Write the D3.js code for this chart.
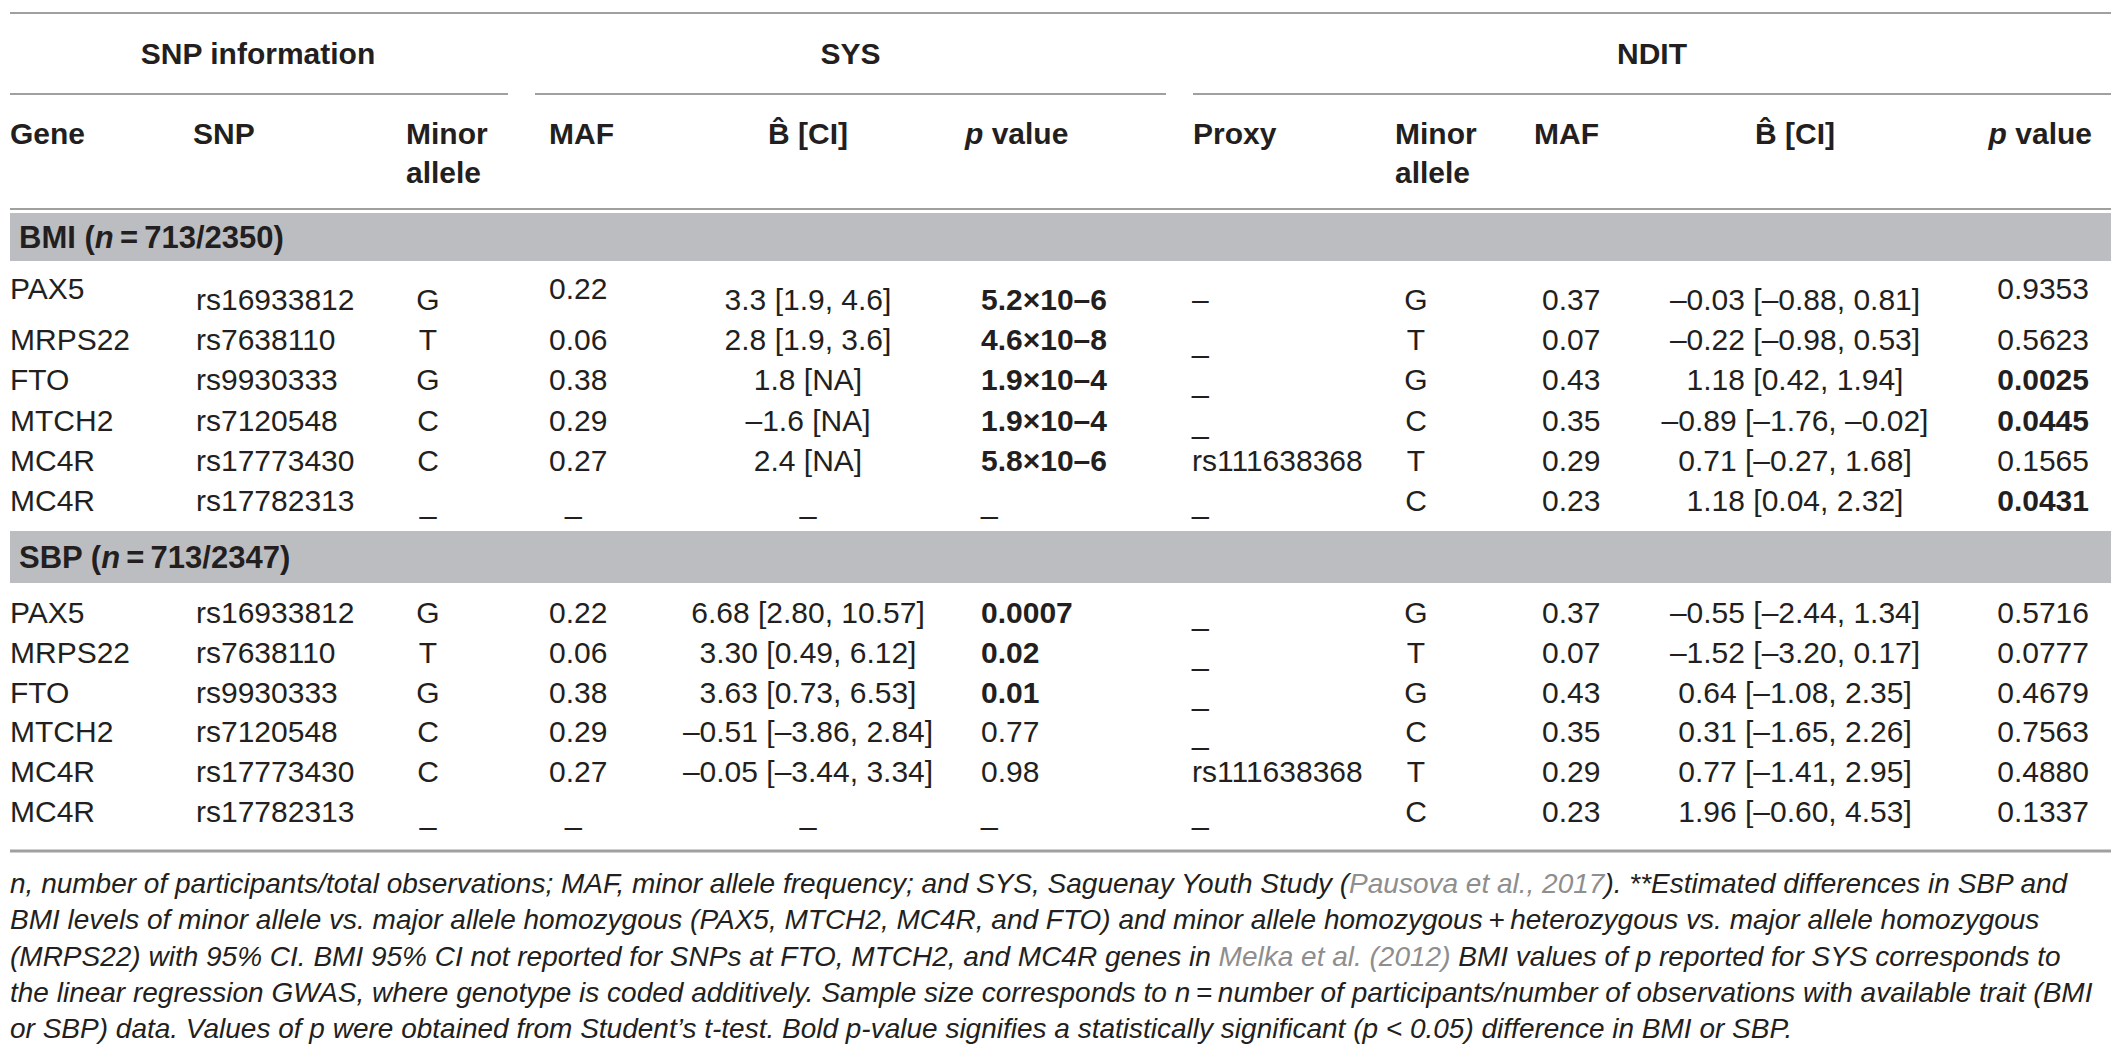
<!DOCTYPE html>
<meta charset="utf-8">
<style>
body { margin: 0; background: #fff; }
text { font-family: "Liberation Sans", Arial, Helvetica, sans-serif; }
</style>
<body>
<script src="https://d3js.org/d3.v7.min.js"></script>
<script>

// table data, one row per SNP
var genes = ["PAX5", "MRPS22", "FTO", "MTCH2", "MC4R", "MC4R"];
var snps = ["rs16933812", "rs7638110", "rs9930333", "rs7120548", "rs17773430", "rs17782313"];
var minorSys = ["G", "T", "G", "C", "C", "_"];
var mafSys = ["0.22", "0.06", "0.38", "0.29", "0.27", "_"];
var minorNdit = ["G", "T", "G", "C", "T", "C"];
var mafNdit = ["0.37", "0.07", "0.43", "0.35", "0.29", "0.23"];
var bmiProxy = ["–", "_", "_", "_", "rs111638368", "_"];
var sbpProxy = ["_", "_", "_", "_", "rs111638368", "_"];

var bmiBetaSys = ["3.3 [1.9, 4.6]", "2.8 [1.9, 3.6]", "1.8 [NA]", "–1.6 [NA]", "2.4 [NA]", "_"];
var bmiPSys = ["5.2×10–6", "4.6×10–8", "1.9×10–4", "1.9×10–4", "5.8×10–6", "_"];
var bmiBetaNdit = ["–0.03 [–0.88, 0.81]", "–0.22 [–0.98, 0.53]", "1.18 [0.42, 1.94]",
                   "–0.89 [–1.76, –0.02]", "0.71 [–0.27, 1.68]", "1.18 [0.04, 2.32]"];
var bmiPNdit = ["0.9353", "0.5623", "0.0025", "0.0445", "0.1565", "0.0431"];

var sbpBetaSys = ["6.68 [2.80, 10.57]", "3.30 [0.49, 6.12]", "3.63 [0.73, 6.53]",
                  "–0.51 [–3.86, 2.84]", "–0.05 [–3.44, 3.34]", "_"];
var sbpPSys = ["0.0007", "0.02", "0.01", "0.77", "0.98", "_"];
var sbpBetaNdit = ["–0.55 [–2.44, 1.34]", "–1.52 [–3.20, 0.17]", "0.64 [–1.08, 2.35]",
                   "0.31 [–1.65, 2.26]", "0.77 [–1.41, 2.95]", "1.96 [–0.60, 4.53]"];
var sbpPNdit = ["0.5716", "0.0777", "0.4679", "0.7563", "0.4880", "0.1337"];

var groupLabels = ["SNP information", "SYS", "NDIT"];
var sections = [
  {name: "BMI", n: "713/2350", proxy: bmiProxy, betaSys: bmiBetaSys, pSys: bmiPSys, betaNdit: bmiBetaNdit, pNdit: bmiPNdit},
  {name: "SBP", n: "713/2347", proxy: sbpProxy, betaSys: sbpBetaSys, pSys: sbpPSys, betaNdit: sbpBetaNdit, pNdit: sbpPNdit}
];

var notes = [
  [["n", 0], [", number of participants/total observations; MAF, minor allele frequency; and SYS, Saguenay Youth Study (", 0], ["Pausova et al., 2017", 1], ["). **Estimated differences in SBP and", 0]],
  [["BMI levels of minor allele vs. major allele homozygous (PAX5, MTCH2, MC4R, and FTO) and minor allele homozygous\u2009+\u2009heterozygous vs. major allele homozygous", 0]],
  [["(MRPS22) with 95% CI. BMI 95% CI not reported for SNPs at FTO, MTCH2, and MC4R genes in ", 0], ["Melka et al. (2012)", 1], [" BMI values of p reported for SYS corresponds to", 0]],
  [["the linear regression GWAS, where genotype is coded additively. Sample size corresponds to n\u2009=\u2009number of participants/number of observations with available trait (BMI", 0]],
  [["or SBP) data. Values of p were obtained from Student’s t-test. Bold p-value signifies a statistically significant (p < 0.05) difference in BMI or SBP.", 0]]
];

// p value -> significant?
function sig(s) {
  if (s === "_" || s === "–") return false;
  var m = s.split("×10");
  var v = m.length > 1 ? +m[0] * Math.pow(10, +m[1].replace("–", "-")) : +s;
  return v < 0.05;
}

var W = 2126, H = 1060;
var ink = "#231f20", rule = "#a0a0a0", band = "#bcbdc0", linkCol = "#8e8e8e";
var fs = 30;

var svg = d3.select("body").append("svg")
    .attr("width", W).attr("height", H);

var x0 = 10, x1 = 2111;

// column anchor positions
var cols = ["gene", "snp", "minorS", "mafS", "betaS", "pS", "proxy", "minorN", "mafN", "betaN", "pN"];
var colX = d3.scaleOrdinal().domain(cols)
    .range([10, 196, 428, 549, 808, 981, 1192, 1416, 1542, 1795, 2089]);
var colAnchor = d3.scaleOrdinal().domain(cols)
    .range(["start", "start", "middle", "start", "middle", "start", "start", "middle", "start", "middle", "end"]);

// rules
function hline(y, a, b, w) {
  svg.append("line").attr("x1", a).attr("x2", b).attr("y1", y).attr("y2", y)
      .attr("stroke", rule).attr("stroke-width", w || 2);
}
hline(13, x0, x1);
hline(209, x0, x1);
hline(851, x0, x1, 3);

// group headers
var groups = [[x0, 508], [535, 1166], [1193, x1]];
groups.forEach(function(g, i) {
  hline(94, g[0], g[1]);
  svg.append("text")
      .attr("x", i == 0 ? 258 : (g[0] + g[1]) / 2)
      .attr("y", 64)
      .attr("text-anchor", "middle")
      .attr("font-size", fs).attr("font-weight", "bold").attr("fill", ink)
      .text(groupLabels[i]);
});

// column headers
var heads = [
  {x: 10, a: "start", t: ["Gene"]},
  {x: 193, a: "start", t: ["SNP"]},
  {x: 406, a: "start", t: ["Minor", "allele"]},
  {x: 549, a: "start", t: ["MAF"]},
  {x: 808, a: "middle", t: ["B\u0302 [CI]"]},
  {x: 965, a: "start", t: ["p value"]},
  {x: 1193, a: "start", t: ["Proxy"]},
  {x: 1395, a: "start", t: ["Minor", "allele"]},
  {x: 1534, a: "start", t: ["MAF"]},
  {x: 1795, a: "middle", t: ["B\u0302 [CI]"]},
  {x: 2092, a: "end", t: ["p value"]}
];
heads.forEach(function(h) {
  h.t.forEach(function(line, k) {
    var t = svg.append("text")
        .attr("x", h.x).attr("y", 144 + k * 39)
        .attr("text-anchor", h.a)
        .attr("font-size", fs).attr("font-weight", "bold").attr("fill", ink);
    if (line == "p value") {
      t.append("tspan").attr("font-style", "italic").text("p");
      t.append("tspan").text(" value");
    } else t.text(line);
  });
});

// section bodies
var bandTop = [213, 531], bandH = [48, 52];
var rowY = [d3.scaleLinear().domain([0, 5]).range([310, 511]),
            d3.scaleLinear().domain([0, 5]).range([623, 822])];

sections.forEach(function(sec, si) {
  svg.append("rect")
      .attr("x", x0).attr("y", bandTop[si])
      .attr("width", x1 - x0).attr("height", bandH[si])
      .attr("fill", band);
  var lab = svg.append("text")
      .attr("x", 19).attr("y", bandTop[si] + bandH[si] / 2 + 11)
      .attr("font-size", 31).attr("font-weight", "bold").attr("fill", ink);
  lab.append("tspan").text(sec.name + " (");
  lab.append("tspan").attr("font-style", "italic").text("n");
  lab.append("tspan").text("\u2009=\u2009" + sec.n + ")");

  var y = rowY[si];
  var cells = [];
  genes.forEach(function(g, r) {
    var row = {
      gene: genes[r], snp: snps[r], minorS: minorSys[r], mafS: mafSys[r],
      betaS: sec.betaSys[r], pS: sec.pSys[r], proxy: sec.proxy[r],
      minorN: minorNdit[r], mafN: mafNdit[r], betaN: sec.betaNdit[r], pN: sec.pNdit[r]
    };
    cols.forEach(function(c) {
      var v = row[c];
      // the first BMI row has a few cells set higher
      var lift = (si == 0 && r == 0 && (c == "gene" || c == "mafS" || c == "pN")) ? 11 : 0;
      cells.push({
        col: c, v: v, y: y(r) - lift,
        bold: (c == "pS" || c == "pN") && sig(v)
      });
    });
  });

  svg.append("g").selectAll("text")
    .data(cells)
    .join("text")
      .attr("x", function(d) {
        // dashes in start-aligned numeric columns sit a little in
        if (d.v == "_" && d.col == "mafS") return colX(d.col) + 16;
        return colX(d.col);
      })
      .attr("y", function(d) { return d.v == "_" ? d.y + 2 : d.y; })
      .attr("text-anchor", function(d) { return colAnchor(d.col); })
      .attr("font-size", fs)
      .attr("font-weight", function(d) { return d.bold ? "bold" : "normal"; })
      .attr("fill", ink)
      .text(function(d) { return d.v; });
});

// footnote
var noteY = d3.scaleLinear().domain([0, 4]).range([893, 1038]);
notes.forEach(function(line, i) {
  var t = svg.append("text")
      .attr("x", 10).attr("y", noteY(i))
      .attr("font-size", 28).attr("font-style", "italic").attr("fill", ink);
  line.forEach(function(seg) {
    t.append("tspan").attr("fill", seg[1] ? linkCol : ink).text(seg[0]);
  });
});

</script>
</body>
